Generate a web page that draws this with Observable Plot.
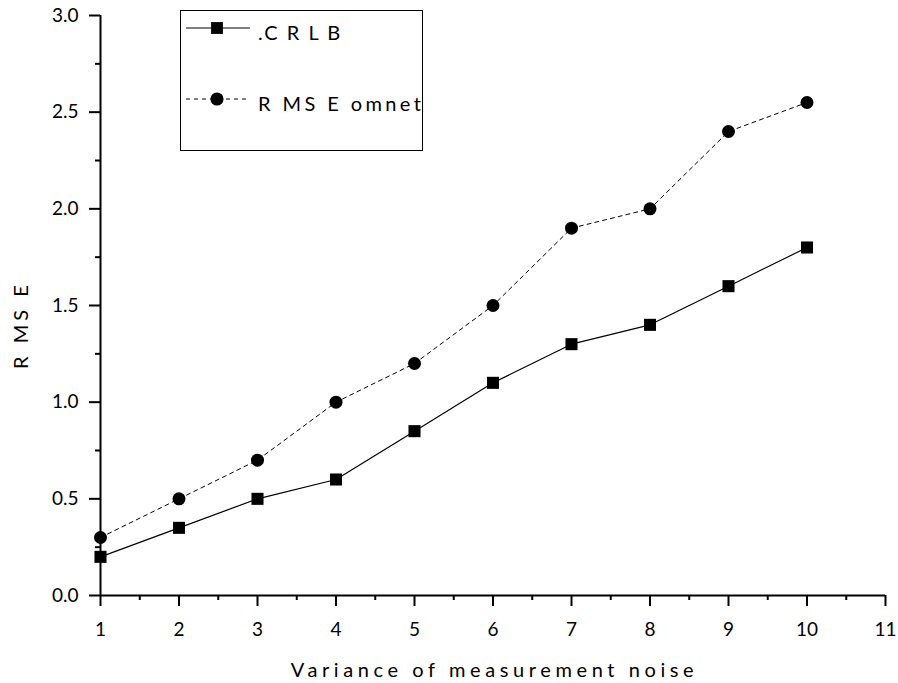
<!DOCTYPE html>
<html>
<head>
<meta charset="utf-8">
<script src="https://cdn.jsdelivr.net/npm/d3@7"></script>
<script src="https://cdn.jsdelivr.net/npm/@observablehq/plot@0.6"></script>
<style>
  html, body { margin: 0; padding: 0; background: #fff; }
  #wrap { position: relative; width: 898px; height: 683px; font-family: Lato, "Open Sans", sans-serif; }
  #legend { position: absolute; left: 180px; top: 10px; }
</style>
</head>
<body>
<div id="wrap"></div>
<script>
const noise = [1, 2, 3, 4, 5, 6, 7, 8, 9, 10];
const crlb = [0.2, 0.35, 0.5, 0.6, 0.85, 1.1, 1.3, 1.4, 1.6, 1.8];
const rmseOmnet = [0.3, 0.5, 0.7, 1.0, 1.2, 1.5, 1.9, 2.0, 2.4, 2.55];
const xTicks = [1, 2, 3, 4, 5, 6, 7, 8, 9, 10, 11];
const xMinor = [1.5, 2.5, 3.5, 4.5, 5.5, 6.5, 7.5, 8.5, 9.5, 10.5];
const yTicks = [0, 0.5, 1.0, 1.5, 2.0, 2.5, 3.0];
const yMinor = [0.25, 0.75, 1.25, 1.75, 2.25, 2.75];
const seriesNames = [".C R L B", "R MS E omnet"];
const xLabel = "Variance of measurement noise";
const yLabel = "R MS E";

const dataCRLB = noise.map((x, i) => ({x, y: crlb[i]}));
const dataOmnet = noise.map((x, i) => ({x, y: rmseOmnet[i]}));

const FONT = "Lato, 'Open Sans', sans-serif";

const chart = Plot.plot({
  width: 898,
  height: 683,
  marginLeft: 100,
  marginRight: 13,
  marginTop: 15,
  marginBottom: 88,
  style: {fontFamily: FONT, color: "#000", background: "#fff"},
  x: {domain: [1, 11]},
  y: {domain: [0, 3]},
  marks: [
    Plot.axisX({ticks: xTicks, tickSize: 11, tickPadding: 16, tickFormat: d => String(d), label: null, fontSize: 19, strokeWidth: 2}),
    Plot.axisX({ticks: xMinor, tickSize: 5, tickFormat: () => "", label: null, strokeWidth: 2}),
    Plot.axisY({ticks: yTicks, tickSize: 11, tickPadding: 11, tickFormat: d3.format(".1f"), label: null, fontSize: 19, strokeWidth: 2}),
    Plot.axisY({ticks: yMinor, tickSize: 5, tickFormat: () => "", label: null, strokeWidth: 2}),
    Plot.ruleY([0], {stroke: "#000", strokeWidth: 2}),
    Plot.ruleX([1], {stroke: "#000", strokeWidth: 2}),
    Plot.line(dataOmnet, {x: "x", y: "y", stroke: "#000", strokeWidth: 1, strokeDasharray: "4,4"}),
    Plot.line(dataCRLB, {x: "x", y: "y", stroke: "#000", strokeWidth: 1.2}),
    Plot.dot(dataOmnet, {x: "x", y: "y", r: 6.5, fill: "#000", stroke: "none", symbol: "circle"}),
    Plot.dot(dataCRLB, {x: "x", y: "y", r: 6.8, fill: "#000", stroke: "none", symbol: "square"})
  ]
});
document.getElementById("wrap").appendChild(chart);

// Styling pass: every tick label and tick stroke
const svg = d3.select(chart);
svg.selectAll("text")
  .style("font-size", "19px").style("font-family", FONT).attr("fill", "#000");
svg.selectAll('g[aria-label*="tick"] path, g[aria-label*="tick"] line')
  .style("stroke-width", "2px").attr("stroke", "#000");

// Axis titles, placed from the plot's own scales
const xs = chart.scale("x"), ys = chart.scale("y");
const xMid = (xs.apply(xs.domain[0]) + xs.apply(xs.domain[1])) / 2;
const yMid = (ys.apply(ys.domain[0]) + ys.apply(ys.domain[1])) / 2;
const yBottom = ys.apply(ys.domain[0]);
const xLeft = xs.apply(xs.domain[0]);
svg.append("text").text(xLabel)
  .attr("x", xMid + 2).attr("y", yBottom + 82)
  .attr("text-anchor", "middle").attr("fill", "#000")
  .style("font-family", FONT).style("font-size", "20px").style("letter-spacing", "4.6px");
svg.append("text").text(yLabel)
  .attr("transform", `translate(${xLeft - 72},${yMid + 20}) rotate(-90)`)
  .attr("text-anchor", "middle").attr("fill", "#000")
  .style("font-family", FONT).style("font-size", "20px").style("letter-spacing", "4px");

// Legend
const legend = d3.select("#wrap").append("svg")
  .attr("id", "legend")
  .attr("width", 244).attr("height", 142)
  .style("font-family", FONT);
legend.append("rect").attr("x", 0.5).attr("y", 0.5).attr("width", 242).attr("height", 140)
  .attr("fill", "#fff").attr("stroke", "#000").attr("stroke-width", 1);
const entries = [
  {name: seriesNames[0], dash: null, symbol: d3.symbolSquare, size: 140, cy: 18, ls: "2px"},
  {name: seriesNames[1], dash: "4,4", symbol: d3.symbolCircle, size: 135, cy: 89, ls: "3.4px"}
];
for (const e of entries) {
  legend.append("line").attr("x1", 6).attr("x2", 70).attr("y1", e.cy).attr("y2", e.cy)
    .attr("stroke", "#000").attr("stroke-width", 1).attr("stroke-dasharray", e.dash);
  legend.append("path").attr("d", d3.symbol(e.symbol, e.size)())
    .attr("transform", `translate(37,${e.cy})`).attr("fill", "#000");
  legend.append("text").attr("x", 78).attr("y", e.cy + 12)
    .style("font-size", "20px").style("letter-spacing", e.ls).attr("fill", "#000").text(e.name);
}
</script>
</body>
</html>
